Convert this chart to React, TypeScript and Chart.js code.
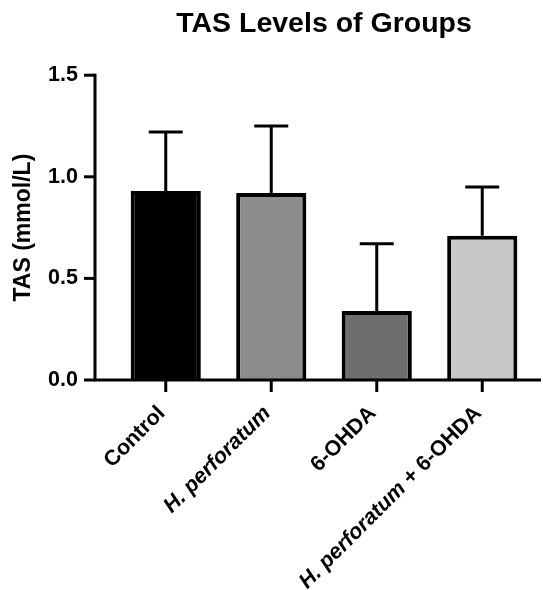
import React, { useEffect, useRef } from "react";
import { Chart, registerables } from "chart.js";

Chart.register(...registerables);

// ---- data ----
const categories = ["Control", "H. perforatum", "6-OHDA", "H. perforatum + 6-OHDA"];
const meanValues = [0.93, 0.92, 0.34, 0.71];
const sdValues = [0.29, 0.33, 0.33, 0.24];
const barColors = ["#000000", "#8c8c8c", "#6e6e6e", "#c8c8c8"];
const yMin = 0;
const yMax = 1.5;
const yStep = 0.5;
const italicPart = "H. perforatum";
const chartTitle = "TAS Levels of Groups";
const yTitle = "TAS (mmol/L)";

const FONT = '"Liberation Sans", Arial, Helvetica, sans-serif';

const prismAxes = {
  id: "prismAxes",
  afterDatasetsDraw(chart: any) {
    const { ctx, chartArea, scales } = chart;
    const xs = scales.x;
    const ys = scales.y;
    const axisX = chartArea.left - 18;
    const y0 = ys.getPixelForValue(yMin);
    const yTop = ys.getPixelForValue(yMax);
    ctx.save();
    ctx.strokeStyle = "#000";
    ctx.lineWidth = 3;
    ctx.lineCap = "butt";

    // error bars (upper only)
    const meta = chart.getDatasetMeta(0);
    meta.data.forEach((bar: any, i: number) => {
      const top = ys.getPixelForValue(meanValues[i] + sdValues[i]);
      ctx.beginPath();
      ctx.moveTo(bar.x, bar.y);
      ctx.lineTo(bar.x, top);
      ctx.moveTo(bar.x - 17, top);
      ctx.lineTo(bar.x + 17, top);
      ctx.stroke();
    });

    // y axis
    ctx.beginPath();
    ctx.moveTo(axisX, yTop - 1.5);
    ctx.lineTo(axisX, y0);
    ctx.stroke();
    ys.ticks.forEach((t: any) => {
      const py = ys.getPixelForValue(t.value);
      ctx.beginPath();
      ctx.moveTo(axisX - 11, py);
      ctx.lineTo(axisX, py);
      ctx.stroke();
    });

    // x axis
    ctx.beginPath();
    ctx.moveTo(axisX - 1.5, y0);
    ctx.lineTo(chart.width - 2, y0);
    ctx.stroke();
    categories.forEach((_, i) => {
      const px = xs.getPixelForValue(i);
      ctx.beginPath();
      ctx.moveTo(px, y0);
      ctx.lineTo(px, y0 + 12);
      ctx.stroke();
    });

    // x labels, rotated 45°, italic species name
    ctx.fillStyle = "#000";
    ctx.textBaseline = "middle";
    ctx.textAlign = "left";
    categories.forEach((label, i) => {
      const px = xs.getPixelForValue(i);
      const parts: { text: string; italic: boolean }[] = [];
      if (label.startsWith(italicPart)) {
        parts.push({ text: italicPart, italic: true });
        const rest = label.slice(italicPart.length);
        if (rest) parts.push({ text: rest, italic: false });
      } else {
        parts.push({ text: label, italic: false });
      }
      const fontFor = (it: boolean) => `${it ? "italic " : ""}bold 21.5px ${FONT}`;
      let total = 0;
      parts.forEach((p) => {
        ctx.font = fontFor(p.italic);
        total += ctx.measureText(p.text).width;
      });
      ctx.save();
      ctx.translate(px - 4, y0 + 30);
      ctx.rotate(-Math.PI / 4);
      let cx = -total;
      parts.forEach((p) => {
        ctx.font = fontFor(p.italic);
        ctx.fillText(p.text, cx, 0);
        cx += ctx.measureText(p.text).width;
      });
      ctx.restore();
    });
    ctx.restore();
  },
};

export default function App() {
  const ref = useRef<HTMLCanvasElement | null>(null);
  useEffect(() => {
    document.body.style.margin = "0";
    if (!ref.current) return;
    const chart = new Chart(ref.current, {
      type: "bar",
      data: {
        labels: categories,
        datasets: [
          {
            data: meanValues,
            backgroundColor: barColors,
            borderColor: "#000",
            borderWidth: 4,
            barPercentage: 0.665,
            categoryPercentage: 1,
          },
        ],
      },
      options: {
        responsive: false,
        animation: false,
        layout: { padding: { left: 0, right: 8, top: 0, bottom: 0 } },
        plugins: {
          legend: { display: false },
          tooltip: { enabled: false },
          title: {
            display: true,
            text: chartTitle,
            fullSize: false,
            color: "#000",
            font: { family: FONT, size: 28.5, weight: "bold" },
            padding: { top: 7, bottom: 34 },
          },
        },
        scales: {
          x: {
            type: "category",
            grid: { display: false, drawTicks: false },
            border: { display: false },
            ticks: { display: false },
            afterFit: (s: any) => {
              s.height = 210;
            },
          },
          y: {
            min: yMin,
            max: yMax,
            grid: { display: false, drawTicks: false },
            border: { display: false },
            ticks: {
              stepSize: yStep,
              padding: 35,
              color: "#000",
              font: { family: FONT, size: 21.5, weight: "bold" },
              callback: (v: any) => Number(v).toFixed(1),
            },
            title: {
              display: true,
              text: yTitle,
              color: "#000",
              font: { family: FONT, size: 23, weight: "bold" },
              padding: { top: 10, bottom: 0 },
            },
            afterFit: (s: any) => {
              s.width = 113;
            },
          },
        },
      } as any,
      plugins: [prismAxes],
    });
    return () => chart.destroy();
  }, []);
  return <canvas ref={ref} width={543} height={590} style={{ display: "block" }} />;
}
